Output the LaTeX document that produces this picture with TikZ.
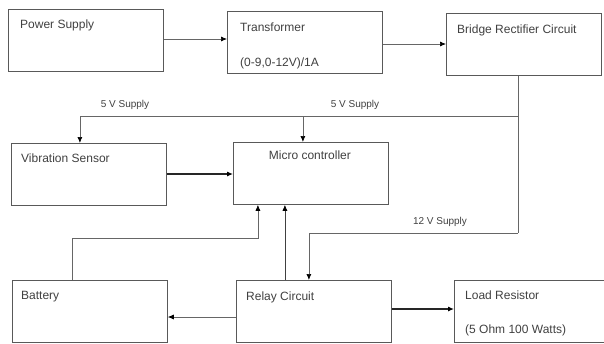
\documentclass[tikz,border=0pt]{standalone}
\usepackage{fontspec}
\setmainfont{Liberation Sans}
\usetikzlibrary{positioning, arrows.meta}
\tikzstyle{blockbox} = [rectangle, draw=black!65, line width=0.8pt, minimum width=155pt, minimum height=62pt, inner sep=0pt, anchor=north west]
\tikzstyle{blocktext} = [inner sep=0pt, text=black!75, font=\fontsize{12}{14}\selectfont]
\tikzstyle{supply} = [inner sep=0pt, text=black!75, font=\fontsize{10}{12}\selectfont]
\tikzstyle{wire} = [draw=black!60, line width=0.7pt]
\tikzstyle{arrow} = [wire, -{Latex[length=6pt,width=5pt,black]}]
\tikzstyle{bigarrow} = [draw=black!85, line width=1.1pt, -{Latex[length=6pt,width=5pt,black]}]

\begin{document}
\begin{tikzpicture}[x=1pt, y=-1pt]
            \useasboundingbox (0,0) rectangle (604,343);
            % blocks
            \node (ps) [blockbox] at (8,9) {};
            \node (tr) [blockbox] at (227,11) {};
            \node (br) [blockbox] at (446,13) {};
            \node (vib) [blockbox] at (11,143) {};
            \node (mc) [blockbox] at (233,142) {};
            \node (bat) [blockbox] at (12,280) {};
            \node (relay) [blockbox] at (236,280) {};
            \node (load) [blockbox] at (454,280) {};
            
            % block texts
            \node (psname) [blocktext, below right=10.5pt and 12pt of ps.north west] {Power Supply};
            \node (trname) [blocktext, below right=11.5pt and 13pt of tr.north west] {Transformer};
            \node (trrate) [blocktext, below right=46.5pt and 13pt of tr.north west] {(0-9,0-12V)/1A};
            \node (brname) [blocktext, below right=11.5pt and 11pt of br.north west] {Bridge Rectifier Circuit};
            \node (vibname) [blocktext, below right=10.5pt and 10pt of vib.north west] {Vibration Sensor};
            \node (mcname) [blocktext, below=8.5pt of mc.north, xshift=-1pt] {Micro controller};
            \node (batname) [blocktext, below right=11.5pt and 9pt of bat.north west] {Battery};
            \node (relayname) [blocktext, below right=11.5pt and 10pt of relay.north west] {Relay Circuit};
            \node (loadname) [blocktext, below right=10.5pt and 11pt of load.north west] {Load Resistor};
            \node (loadrate) [blocktext, below right=44.5pt and 11pt of load.north west] {(5 Ohm 100 Watts)};
            
            % supply rails
            \coordinate (brout) at ([xshift=-6pt]br.south);
            \coordinate (tap5) at (brout |- 0,116);
            \coordinate (tap12) at (brout |- 0,233);
            \node (sup5a) [supply] at (125,105) {5 V Supply};
            \node (sup5b) [supply] at (355,105) {5 V Supply};
            \node (sup12) [supply] at (440,222) {12 V Supply};
            
            \draw [arrow] (ps.east |- 0,39) -- (tr.west |- 0,39);
            \draw [arrow] (tr.east |- 0,44) -- (br.west |- 0,44);
            
            \draw [wire] (brout) -- (tap12);
            \draw [wire, line width=1pt] (tap5) -- (tap5 -| vib.north);
            \draw [arrow] (tap5) -| ([xshift=-9pt]vib.north);
            \draw [arrow] ([xshift=-8pt]mc.north |- tap5) -- ([xshift=-8pt]mc.north);
            \draw [arrow] (tap12) -| ([xshift=-5pt]relay.north);
            
            \draw [bigarrow] (vib.east |- 0,174) -- (mc.west |- 0,174);
            \draw [arrow] ([xshift=-18pt]bat.north) -- ++(0,-42) -| ([xshift=-53pt]mc.south);
            \draw [arrow, draw=black!75] ([xshift=-26pt]mc.south |- relay.north) -- ([xshift=-26pt]mc.south);
            \draw [arrow] (relay.west |- 0,317) -- (bat.east |- 0,317);
            \draw [bigarrow] (relay.east |- 0,309) -- (load.west |- 0,309);
        \end{tikzpicture}
\end{document}
